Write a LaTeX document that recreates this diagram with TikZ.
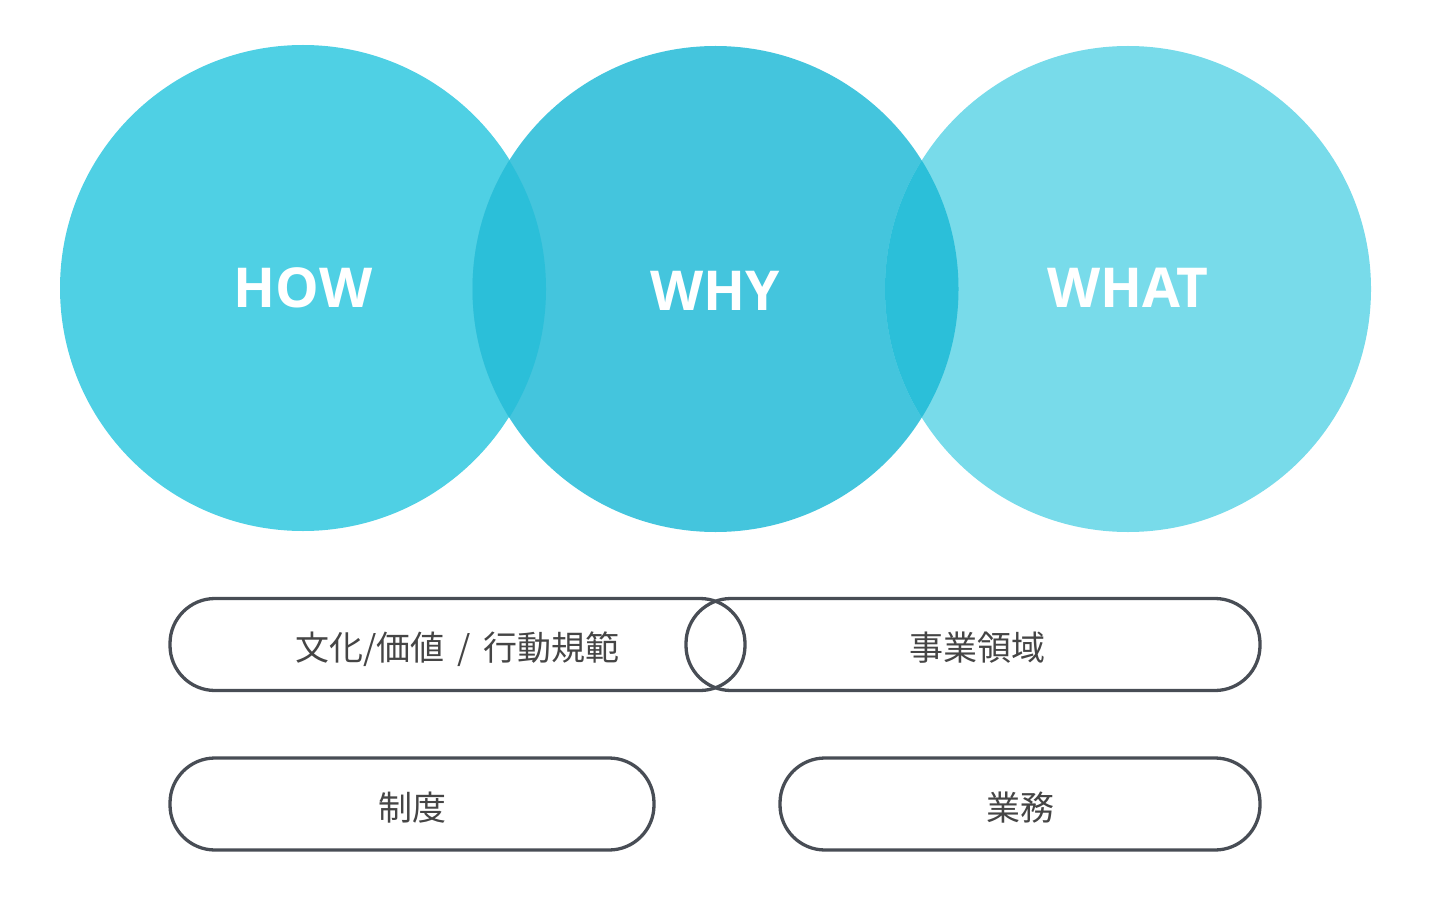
\documentclass[tikz,border=0pt]{standalone}
\usepackage{fontspec}
\setmainfont{Open Sans}
\newfontfamily\cjk{Noto Sans CJK JP}
\definecolor{howc}{HTML}{4FD0E4}
\definecolor{whyc}{HTML}{44C5DD}
\definecolor{whatc}{HTML}{78DBEA}
\definecolor{lensc}{HTML}{2BBFD9}
\definecolor{pillc}{HTML}{484D55}
\definecolor{txtc}{HTML}{454545}
\begin{document}
\begin{tikzpicture}[x=1pt,y=-1pt,
  bigcircle/.style={circle,inner sep=0pt,minimum size=486pt,text=white,font=\fontsize{55}{60}\selectfont\bfseries},
  bigtext/.style={text=white,font=\fontsize{55}{60}\selectfont\bfseries},
  pill/.style={draw=pillc,line width=3.3pt,rounded corners=45pt,minimum height=92pt,inner sep=0pt,text height=36pt,text depth=4pt,text=txtc,font=\cjk\fontsize{34}{40}\selectfont}]
\useasboundingbox (0,0) rectangle (1440,912);
\node[bigcircle,fill=howc] (how) at (303,288) {HOW};
\node[bigcircle,fill=whyc] (why) at (715.5,289) {};
\node[bigcircle,fill=whatc] (what) at (1128,289) {};
\begin{scope}
  \clip (303,289) circle (243pt);
  \fill[lensc] (715.5,289) circle (243pt);
\end{scope}
\begin{scope}
  \clip (715.5,289) circle (243pt);
  \fill[lensc] (1128,289) circle (243pt);
\end{scope}
\node[bigtext] (whyt) at (715.5,291) {WHY};
\node[bigtext] (whatt) at (1128,288) {WHAT};
\node[pill,minimum width=575pt] (culture) at (457.5,644.5) {文化/価値\hspace{13pt}/\hspace{13pt}行動規範};
\node[pill,minimum width=574pt] (domain) at (973,644.5) {\hspace*{8pt}事業領域};
\node[pill,minimum width=484pt] (system) at (412,804) {制度};
\node[pill,minimum width=480pt] (work) at (1020,804) {業務};
\end{tikzpicture}
\end{document}
